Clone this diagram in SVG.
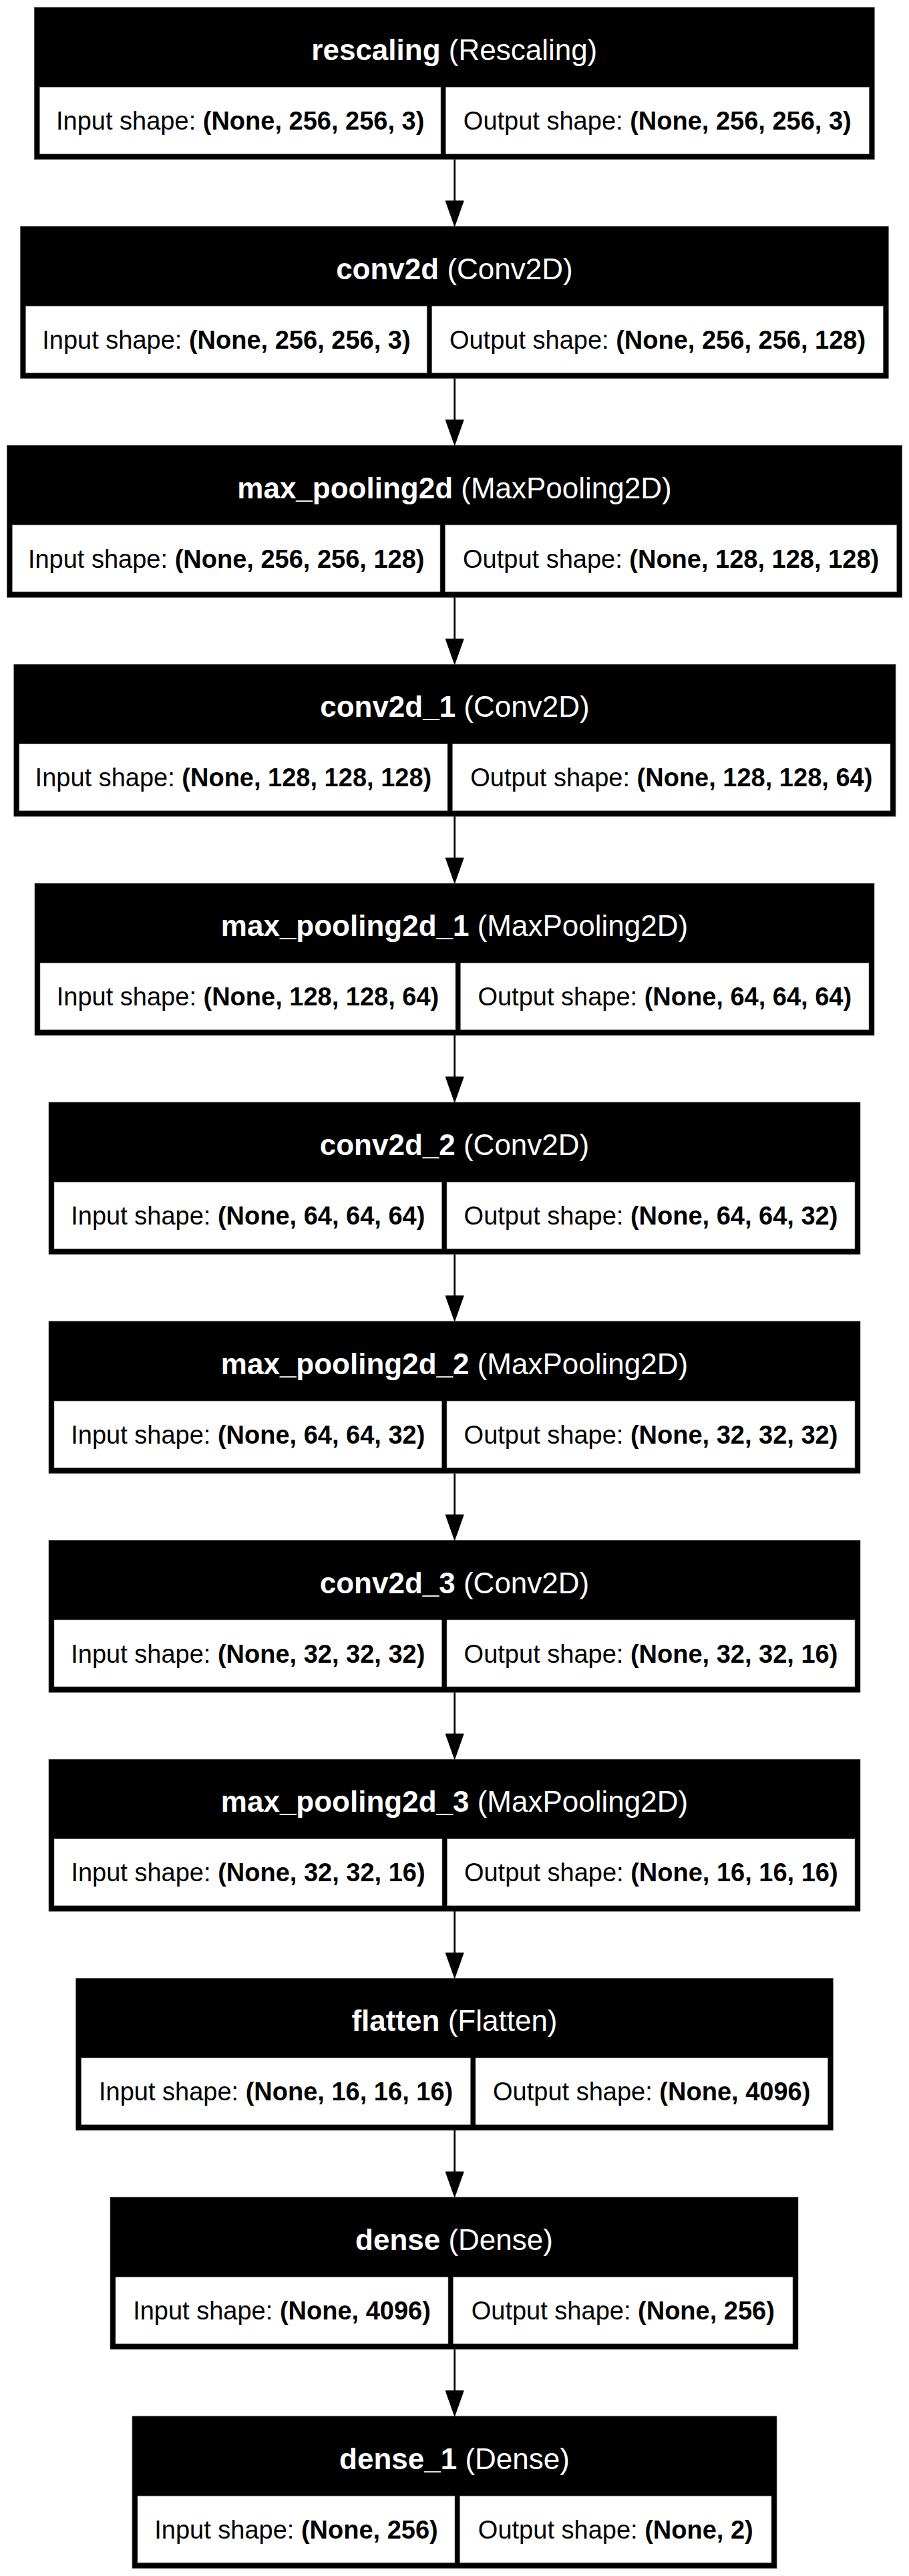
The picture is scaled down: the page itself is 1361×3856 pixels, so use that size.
<svg xmlns="http://www.w3.org/2000/svg" width="1361" height="3856" viewBox="0 0 1361 3856">
<style>
  .frame { fill: #000; stroke: #555; stroke-width: 0.6; }
  .cell { fill: #fff; stroke: #777; stroke-width: 0.6; }
  .title { font-family: "Liberation Sans", Arial, Helvetica, sans-serif; font-size: 44px; fill: #fff; text-anchor: middle; }
  .txt { font-family: "Liberation Sans", Arial, Helvetica, sans-serif; font-size: 38px; fill: #000; text-anchor: middle; }
  .b { font-weight: bold; }
  .edge { stroke: #000; stroke-width: 2.7; fill: none; }
  .head { fill: #000; stroke: #000; stroke-width: 1; }
</style>
<rect x="0" y="0" width="1361" height="3856" fill="#fff"/>

<g id="node-rescaling" transform="translate(0,11)">
  <rect class="frame" x="51.3" y="0" width="1258" height="227.7"/>
  <rect class="cell" x="59.3" y="119.3" width="600.7" height="100"/>
  <rect class="cell" x="667.3" y="119.3" width="634" height="100"/>
  <text class="title" x="680.3" y="79"><tspan class="b">rescaling</tspan> (Rescaling)</text>
  <text class="txt" x="359.7" y="183">Input shape: <tspan class="b">(None, 256, 256, 3)</tspan></text>
  <text class="txt" x="984.3" y="183">Output shape: <tspan class="b">(None, 256, 256, 3)</tspan></text>
</g>

<g id="node-conv2d" transform="translate(0,338.8)">
  <rect class="frame" x="30.5" y="0" width="1299.8" height="227.7"/>
  <rect class="cell" x="38.5" y="119.3" width="600.7" height="100"/>
  <rect class="cell" x="646.7" y="119.3" width="675.6" height="100"/>
  <text class="title" x="680.4" y="79"><tspan class="b">conv2d</tspan> (Conv2D)</text>
  <text class="txt" x="338.9" y="183">Input shape: <tspan class="b">(None, 256, 256, 3)</tspan></text>
  <text class="txt" x="984.5" y="183">Output shape: <tspan class="b">(None, 256, 256, 128)</tspan></text>
</g>

<g id="node-max_pooling2d" transform="translate(0,666.6)">
  <rect class="frame" x="10.4" y="0" width="1340.3" height="227.7"/>
  <rect class="cell" x="18.4" y="119.3" width="640.6" height="100"/>
  <rect class="cell" x="666.5" y="119.3" width="676.2" height="100"/>
  <text class="title" x="680.5" y="79"><tspan class="b">max_pooling2d</tspan> (MaxPooling2D)</text>
  <text class="txt" x="338.7" y="183">Input shape: <tspan class="b">(None, 256, 256, 128)</tspan></text>
  <text class="txt" x="1004.6" y="183">Output shape: <tspan class="b">(None, 128, 128, 128)</tspan></text>
</g>

<g id="node-conv2d_1" transform="translate(0,994.4)">
  <rect class="frame" x="20.8" y="0" width="1320.2" height="227.7"/>
  <rect class="cell" x="28.8" y="119.3" width="641.2" height="100"/>
  <rect class="cell" x="677.5" y="119.3" width="655.5" height="100"/>
  <text class="title" x="680.9" y="79"><tspan class="b">conv2d_1</tspan> (Conv2D)</text>
  <text class="txt" x="349.4" y="183">Input shape: <tspan class="b">(None, 128, 128, 128)</tspan></text>
  <text class="txt" x="1005.3" y="183">Output shape: <tspan class="b">(None, 128, 128, 64)</tspan></text>
</g>

<g id="node-max_pooling2d_1" transform="translate(0,1322.2)">
  <rect class="frame" x="52" y="0" width="1257" height="227.7"/>
  <rect class="cell" x="60" y="119.3" width="622" height="100"/>
  <rect class="cell" x="689.5" y="119.3" width="611.5" height="100"/>
  <text class="title" x="680.5" y="79"><tspan class="b">max_pooling2d_1</tspan> (MaxPooling2D)</text>
  <text class="txt" x="371" y="183">Input shape: <tspan class="b">(None, 128, 128, 64)</tspan></text>
  <text class="txt" x="995.3" y="183">Output shape: <tspan class="b">(None, 64, 64, 64)</tspan></text>
</g>

<g id="node-conv2d_2" transform="translate(0,1650)">
  <rect class="frame" x="73" y="0" width="1215" height="227.7"/>
  <rect class="cell" x="81" y="119.3" width="580.5" height="100"/>
  <rect class="cell" x="669" y="119.3" width="611" height="100"/>
  <text class="title" x="680.5" y="79"><tspan class="b">conv2d_2</tspan> (Conv2D)</text>
  <text class="txt" x="371.3" y="183">Input shape: <tspan class="b">(None, 64, 64, 64)</tspan></text>
  <text class="txt" x="974.5" y="183">Output shape: <tspan class="b">(None, 64, 64, 32)</tspan></text>
</g>

<g id="node-max_pooling2d_2" transform="translate(0,1977.8)">
  <rect class="frame" x="73" y="0" width="1215" height="227.7"/>
  <rect class="cell" x="81" y="119.3" width="580.5" height="100"/>
  <rect class="cell" x="669" y="119.3" width="611" height="100"/>
  <text class="title" x="680.5" y="79"><tspan class="b">max_pooling2d_2</tspan> (MaxPooling2D)</text>
  <text class="txt" x="371.3" y="183">Input shape: <tspan class="b">(None, 64, 64, 32)</tspan></text>
  <text class="txt" x="974.5" y="183">Output shape: <tspan class="b">(None, 32, 32, 32)</tspan></text>
</g>

<g id="node-conv2d_3" transform="translate(0,2305.6)">
  <rect class="frame" x="73" y="0" width="1215" height="227.7"/>
  <rect class="cell" x="81" y="119.3" width="580.5" height="100"/>
  <rect class="cell" x="669" y="119.3" width="611" height="100"/>
  <text class="title" x="680.5" y="79"><tspan class="b">conv2d_3</tspan> (Conv2D)</text>
  <text class="txt" x="371.3" y="183">Input shape: <tspan class="b">(None, 32, 32, 32)</tspan></text>
  <text class="txt" x="974.5" y="183">Output shape: <tspan class="b">(None, 32, 32, 16)</tspan></text>
</g>

<g id="node-max_pooling2d_3" transform="translate(0,2633.4)">
  <rect class="frame" x="73" y="0" width="1215" height="227.7"/>
  <rect class="cell" x="81" y="119.3" width="581" height="100"/>
  <rect class="cell" x="669.5" y="119.3" width="610.5" height="100"/>
  <text class="title" x="680.5" y="79"><tspan class="b">max_pooling2d_3</tspan> (MaxPooling2D)</text>
  <text class="txt" x="371.5" y="183">Input shape: <tspan class="b">(None, 32, 32, 16)</tspan></text>
  <text class="txt" x="974.8" y="183">Output shape: <tspan class="b">(None, 16, 16, 16)</tspan></text>
</g>

<g id="node-flatten" transform="translate(0,2961.2)">
  <rect class="frame" x="113.7" y="0" width="1133.7" height="227.7"/>
  <rect class="cell" x="121.7" y="119.3" width="582.8" height="100"/>
  <rect class="cell" x="712" y="119.3" width="527.4" height="100"/>
  <text class="title" x="680.5" y="79"><tspan class="b">flatten</tspan> (Flatten)</text>
  <text class="txt" x="413.1" y="183">Input shape: <tspan class="b">(None, 16, 16, 16)</tspan></text>
  <text class="txt" x="975.7" y="183">Output shape: <tspan class="b">(None, 4096)</tspan></text>
</g>

<g id="node-dense" transform="translate(0,3289)">
  <rect class="frame" x="165" y="0" width="1030" height="227.7"/>
  <rect class="cell" x="173" y="119.3" width="498" height="100"/>
  <rect class="cell" x="678.5" y="119.3" width="508.5" height="100"/>
  <text class="title" x="680" y="79"><tspan class="b">dense</tspan> (Dense)</text>
  <text class="txt" x="422" y="183">Input shape: <tspan class="b">(None, 4096)</tspan></text>
  <text class="txt" x="932.8" y="183">Output shape: <tspan class="b">(None, 256)</tspan></text>
</g>

<g id="node-dense_1" transform="translate(0,3616.8)">
  <rect class="frame" x="198" y="0" width="965" height="227.7"/>
  <rect class="cell" x="206" y="119.3" width="475" height="100"/>
  <rect class="cell" x="688.5" y="119.3" width="466.5" height="100"/>
  <text class="title" x="680.5" y="79"><tspan class="b">dense_1</tspan> (Dense)</text>
  <text class="txt" x="443.5" y="183">Input shape: <tspan class="b">(None, 256)</tspan></text>
  <text class="txt" x="921.8" y="183">Output shape: <tspan class="b">(None, 2)</tspan></text>
</g>

<g id="edges">
  <g transform="translate(0,0)"><line class="edge" x1="680.7" y1="238.7" x2="680.7" y2="302"/><polygon class="head" points="667.2,300.8 694.2,300.8 680.7,338.8"/></g>
  <g transform="translate(0,327.8)"><line class="edge" x1="680.7" y1="238.7" x2="680.7" y2="302"/><polygon class="head" points="667.2,300.8 694.2,300.8 680.7,338.8"/></g>
  <g transform="translate(0,655.6)"><line class="edge" x1="680.7" y1="238.7" x2="680.7" y2="302"/><polygon class="head" points="667.2,300.8 694.2,300.8 680.7,338.8"/></g>
  <g transform="translate(0,983.4)"><line class="edge" x1="680.7" y1="238.7" x2="680.7" y2="302"/><polygon class="head" points="667.2,300.8 694.2,300.8 680.7,338.8"/></g>
  <g transform="translate(0,1311.2)"><line class="edge" x1="680.7" y1="238.7" x2="680.7" y2="302"/><polygon class="head" points="667.2,300.8 694.2,300.8 680.7,338.8"/></g>
  <g transform="translate(0,1639)"><line class="edge" x1="680.7" y1="238.7" x2="680.7" y2="302"/><polygon class="head" points="667.2,300.8 694.2,300.8 680.7,338.8"/></g>
  <g transform="translate(0,1966.8)"><line class="edge" x1="680.7" y1="238.7" x2="680.7" y2="302"/><polygon class="head" points="667.2,300.8 694.2,300.8 680.7,338.8"/></g>
  <g transform="translate(0,2294.6)"><line class="edge" x1="680.7" y1="238.7" x2="680.7" y2="302"/><polygon class="head" points="667.2,300.8 694.2,300.8 680.7,338.8"/></g>
  <g transform="translate(0,2622.4)"><line class="edge" x1="680.7" y1="238.7" x2="680.7" y2="302"/><polygon class="head" points="667.2,300.8 694.2,300.8 680.7,338.8"/></g>
  <g transform="translate(0,2950.2)"><line class="edge" x1="680.7" y1="238.7" x2="680.7" y2="302"/><polygon class="head" points="667.2,300.8 694.2,300.8 680.7,338.8"/></g>
  <g transform="translate(0,3278)"><line class="edge" x1="680.7" y1="238.7" x2="680.7" y2="302"/><polygon class="head" points="667.2,300.8 694.2,300.8 680.7,338.8"/></g>
</g>
</svg>
